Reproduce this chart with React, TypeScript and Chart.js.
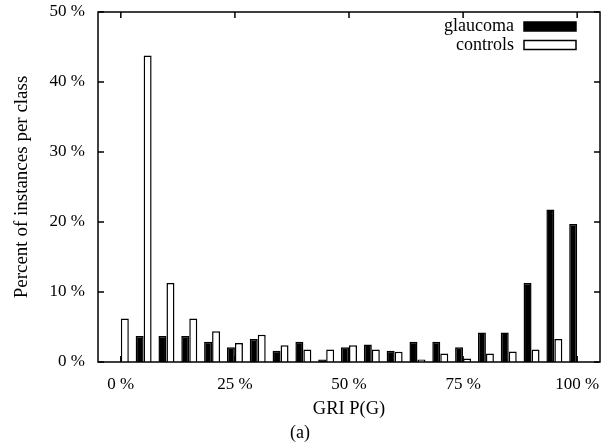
import React, { useEffect, useRef } from 'react';
import { Chart, registerables } from 'chart.js';

Chart.register(...registerables);

// Bin centres of GRI P(G), in percent
const bins = [0, 5, 10, 15, 20, 25, 30, 35, 40, 45, 50, 55, 60, 65, 70, 75, 80, 85, 90, 95, 100];
// Percent of instances per class
const glaucoma = [0, 3.7, 3.7, 3.7, 2.9, 2.1, 3.3, 1.6, 2.9, 0.35, 2.1, 2.5, 1.6, 2.9, 2.9, 2.1, 4.2, 4.2, 11.3, 21.8, 19.7];
const controls = [6.2, 43.8, 11.3, 6.2, 4.4, 2.7, 3.9, 2.4, 1.8, 1.8, 2.4, 1.8, 1.45, 0.35, 1.2, 0.5, 1.2, 1.5, 1.8, 3.3, 0];
const seriesLabels = ['glaucoma', 'controls'];
const xTicks = [0, 25, 50, 75, 100];
const yTicks = [0, 10, 20, 30, 40, 50];
const xTitle = 'GRI P(G)';
const yTitle = 'Percent of instances per class';
const caption = '(a)';

const FONT = '"Liberation Serif", "Times New Roman", serif';

const framePlugin = {
  id: 'gnuplotFrame',
  afterDatasetsDraw(chart: any) {
    const { ctx, chartArea: a, scales } = chart;
    ctx.save();
    ctx.strokeStyle = '#000';
    ctx.lineWidth = 1.5;
    ctx.strokeRect(a.left, a.top, a.right - a.left, a.bottom - a.top);
    const tl = 6;
    ctx.beginPath();
    scales.y.ticks.forEach((t: any) => {
      const y = scales.y.getPixelForValue(t.value);
      ctx.moveTo(a.left, y); ctx.lineTo(a.left + tl, y);
      ctx.moveTo(a.right, y); ctx.lineTo(a.right - tl, y);
    });
    scales.x.ticks.forEach((t: any) => {
      const x = scales.x.getPixelForValue(t.value);
      ctx.moveTo(x, a.bottom); ctx.lineTo(x, a.bottom - tl);
      ctx.moveTo(x, a.top); ctx.lineTo(x, a.top + tl);
    });
    ctx.stroke();
    ctx.restore();
  },
};

const legendPlugin = {
  id: 'insideLegend',
  afterDraw(chart: any) {
    const { ctx, chartArea: a } = chart;
    ctx.save();
    ctx.font = `18px ${FONT}`;
    ctx.textAlign = 'right';
    ctx.textBaseline = 'middle';
    const swRight = a.right - 24;
    const swW = 52;
    const swH = 9;
    chart.data.datasets.forEach((ds: any, i: number) => {
      const cy = a.top + 14.5 + i * 18.5;
      ctx.fillStyle = ds.backgroundColor;
      ctx.fillRect(swRight - swW, cy - swH / 2, swW, swH);
      ctx.strokeStyle = '#000';
      ctx.lineWidth = 1.5;
      ctx.strokeRect(swRight - swW, cy - swH / 2, swW, swH);
      ctx.fillStyle = '#000';
      ctx.fillText(ds.label, swRight - swW - 10, cy);
    });
    ctx.restore();
  },
};

export default function App() {
  const ref = useRef<HTMLCanvasElement>(null);
  useEffect(() => {
    const canvas = ref.current;
    if (!canvas) return;
    const chart = new Chart(canvas, {
      type: 'bar',
      data: {
        datasets: [
          {
            label: seriesLabels[0],
            data: bins.map((b, i) => ({ x: b, y: glaucoma[i] })),
            backgroundColor: '#000',
            borderColor: '#000',
            borderWidth: 1.5,
          },
          {
            label: seriesLabels[1],
            data: bins.map((b, i) => ({ x: b, y: controls[i] })),
            backgroundColor: '#fff',
            borderColor: '#000',
            borderWidth: 1.5,
          },
        ],
      },
      options: {
        responsive: false,
        animation: false,
        categoryPercentage: 0.7,
        barPercentage: 1,
        layout: { padding: { left: 0, right: 15, top: 12, bottom: 0 } },
        plugins: {
          legend: { display: false },
          tooltip: { enabled: false },
          title: {
            display: true,
            position: 'bottom',
            text: caption,
            color: '#000',
            font: { family: FONT, size: 18, weight: 'normal' },
            padding: { top: 0, bottom: 4 },
          },
        },
        scales: {
          x: {
            type: 'linear',
            min: -5,
            max: 105,
            offset: false,
            grid: { display: false, drawTicks: false, offset: false },
            border: { display: false },
            afterBuildTicks: (s: any) => { s.ticks = xTicks.map((v) => ({ value: v })); },
            afterFit: (s: any) => { s.height = 60.4; s.paddingLeft = 0; s.paddingRight = 0; },
            ticks: {
              color: '#000',
              font: { family: FONT, size: 17 },
              padding: 12,
              maxRotation: 0,
              callback: (v: any) => `${v} %`,
            },
            title: {
              display: true,
              text: xTitle,
              color: '#000',
              font: { family: FONT, size: 18.5 },
              padding: { top: 0, bottom: 2 },
            },
          },
          y: {
            min: 0,
            max: 50,
            grid: { display: false, drawTicks: false },
            border: { display: false },
            afterBuildTicks: (s: any) => { s.ticks = yTicks.map((v) => ({ value: v })); },
            afterFit: (s: any) => { s.width = 98; s.paddingTop = 0; s.paddingBottom = 0; },
            ticks: {
              color: '#000',
              font: { family: FONT, size: 17 },
              padding: 13,
              callback: (v: any) => `${v} %`,
            },
            title: {
              display: true,
              text: yTitle,
              color: '#000',
              font: { family: FONT, size: 19 },
              padding: { top: 11, bottom: 0 },
            },
          },
        },
      },
      plugins: [framePlugin, legendPlugin],
    });
    return () => chart.destroy();
  }, []);
  return (
    <div style={{ position: 'fixed', left: 0, top: 0, width: 615, height: 448, background: '#fff' }}>
      <canvas ref={ref} width={615} height={448} style={{ display: 'block' }} />
    </div>
  );
}
